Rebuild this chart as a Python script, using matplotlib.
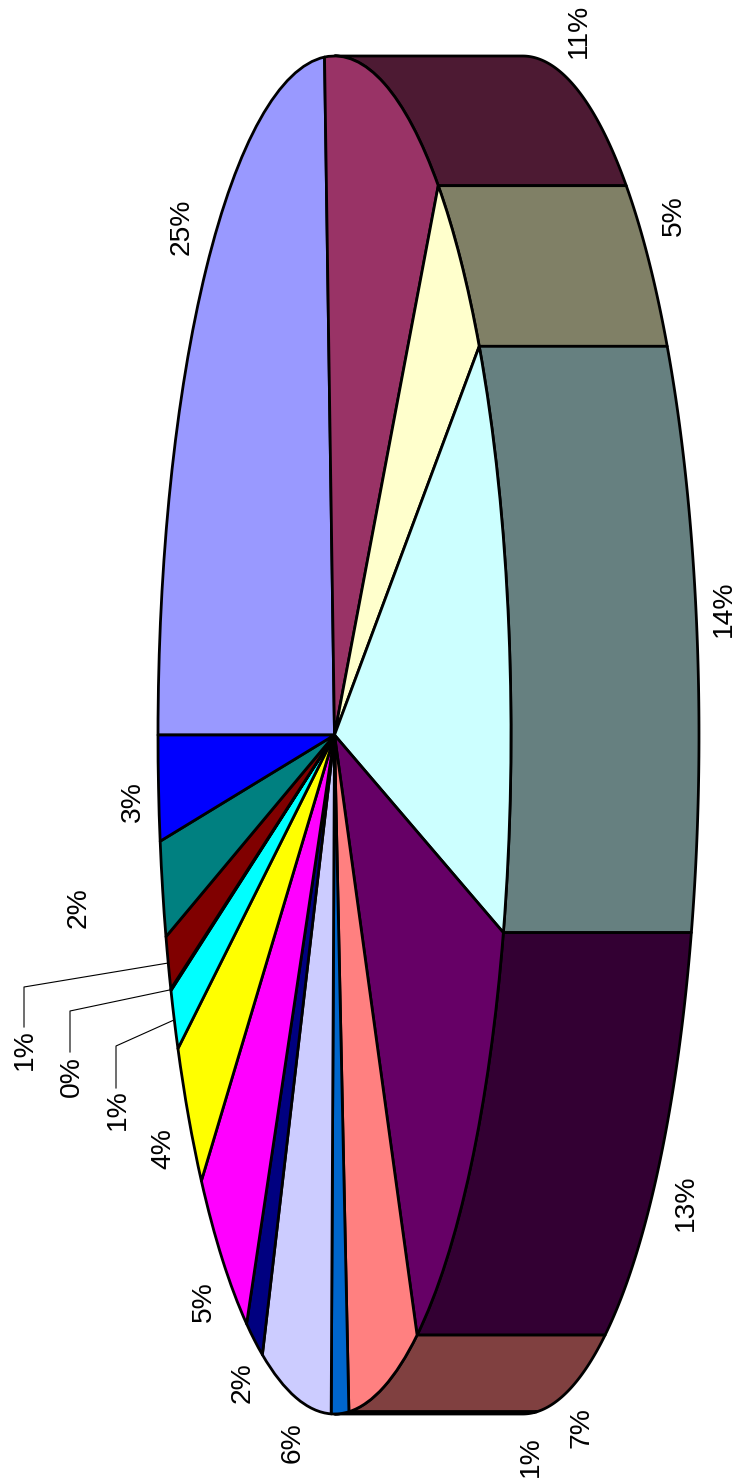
import matplotlib
matplotlib.use("Agg")
import matplotlib.pyplot as plt
import numpy as np
from matplotlib.patches import Polygon
from matplotlib.transforms import Affine2D

plt.rcParams['font.family'] = ['Liberation Sans', 'DejaVu Sans']

# slice sizes, labels as printed on the chart
shares = [24.1, 10.9, 5.3, 14.4, 12.55, 6.45, 1.6, 6.4, 1.6, 5.3, 3.76, 1.5, 0.04, 1.3, 2.3, 2.5]
labels = ['25%', '11%', '5%', '14%', '13%', '7%', '1%', '6%', '2%', '5%', '4%', '1%', '0%', '1%', '2%', '3%']
colors = ['#9999FF', '#993366', '#FFFFCC', '#CCFFFF', '#660066', '#FF8080', '#0066CC', '#CCCCFF',
          '#000080', '#FF00FF', '#FFFF00', '#00FFFF', '#800080', '#800000', '#008080', '#0000FF']

# layout in pixels
cx, cy = 334.5, 735
rx, ry = 176.5, 679
depth = 188
label_pos = [(182, 227), (579, 31), (674, 216), (724, 609), (686, 1203), (582, 1428), (531, 1457), (293, 1443),
             (243, 1383), (204, 1302), (163, 1149), (118, 1110), (72, 1077), (25, 1050), (79, 908), (133, 802)]
# label end and elbow of the leader lines, by slice index
leaders = {11: [(116, 1088), (116, 1046)], 12: [(70, 1052), (70, 1011)], 13: [(24, 1027), (24, 987)]}

fig = plt.figure(figsize=(7.36, 14.84), dpi=100, facecolor='white')
ax = fig.add_axes([0, 0, 1, 1])

wedges, _ = ax.pie(shares, colors=colors, startangle=180, counterclock=True,
                   wedgeprops={'edgecolor': 'black', 'linewidth': 2.0, 'joinstyle': 'round'})
ax.set_aspect('auto')
ax.set_xlim(0, 736)
ax.set_ylim(1484, 0)
ax.axis('off')

squash = Affine2D().scale(rx, ry).translate(cx, cy) + ax.transData


def rim(theta):
    a = np.radians(theta)
    return cx + rx * np.cos(a), cy + ry * np.sin(a)


for w in wedges:
    w.set_transform(squash)
    w.set_zorder(3)
    # only the part of the rim on the right hand side has a visible wall
    lo, hi = max(w.theta1, 270), min(w.theta2, 450)
    if hi <= lo:
        continue
    x, y = rim(np.linspace(lo, hi, 80))
    pts = np.column_stack([np.r_[x, x[::-1] + depth], np.r_[y, y[::-1]]])
    dark = tuple(c * 0.5 for c in matplotlib.colors.to_rgb(w.get_facecolor()))
    ax.add_patch(Polygon(pts, closed=True, facecolor=dark, edgecolor='black',
                         linewidth=2.0, joinstyle='round', zorder=2))

for txt, (x, y) in zip(labels, label_pos):
    ax.text(x, y, txt, rotation=90, ha='center', va='center', fontsize=20.3, color='black')

for i, pts in leaders.items():
    end = rim((wedges[i].theta1 + wedges[i].theta2) / 2)
    xs = [p[0] for p in pts] + [end[0]]
    ys = [p[1] for p in pts] + [end[1]]
    ax.plot(xs, ys, color='black', linewidth=0.8, zorder=1)

fig.savefig('out.png', dpi=100)
